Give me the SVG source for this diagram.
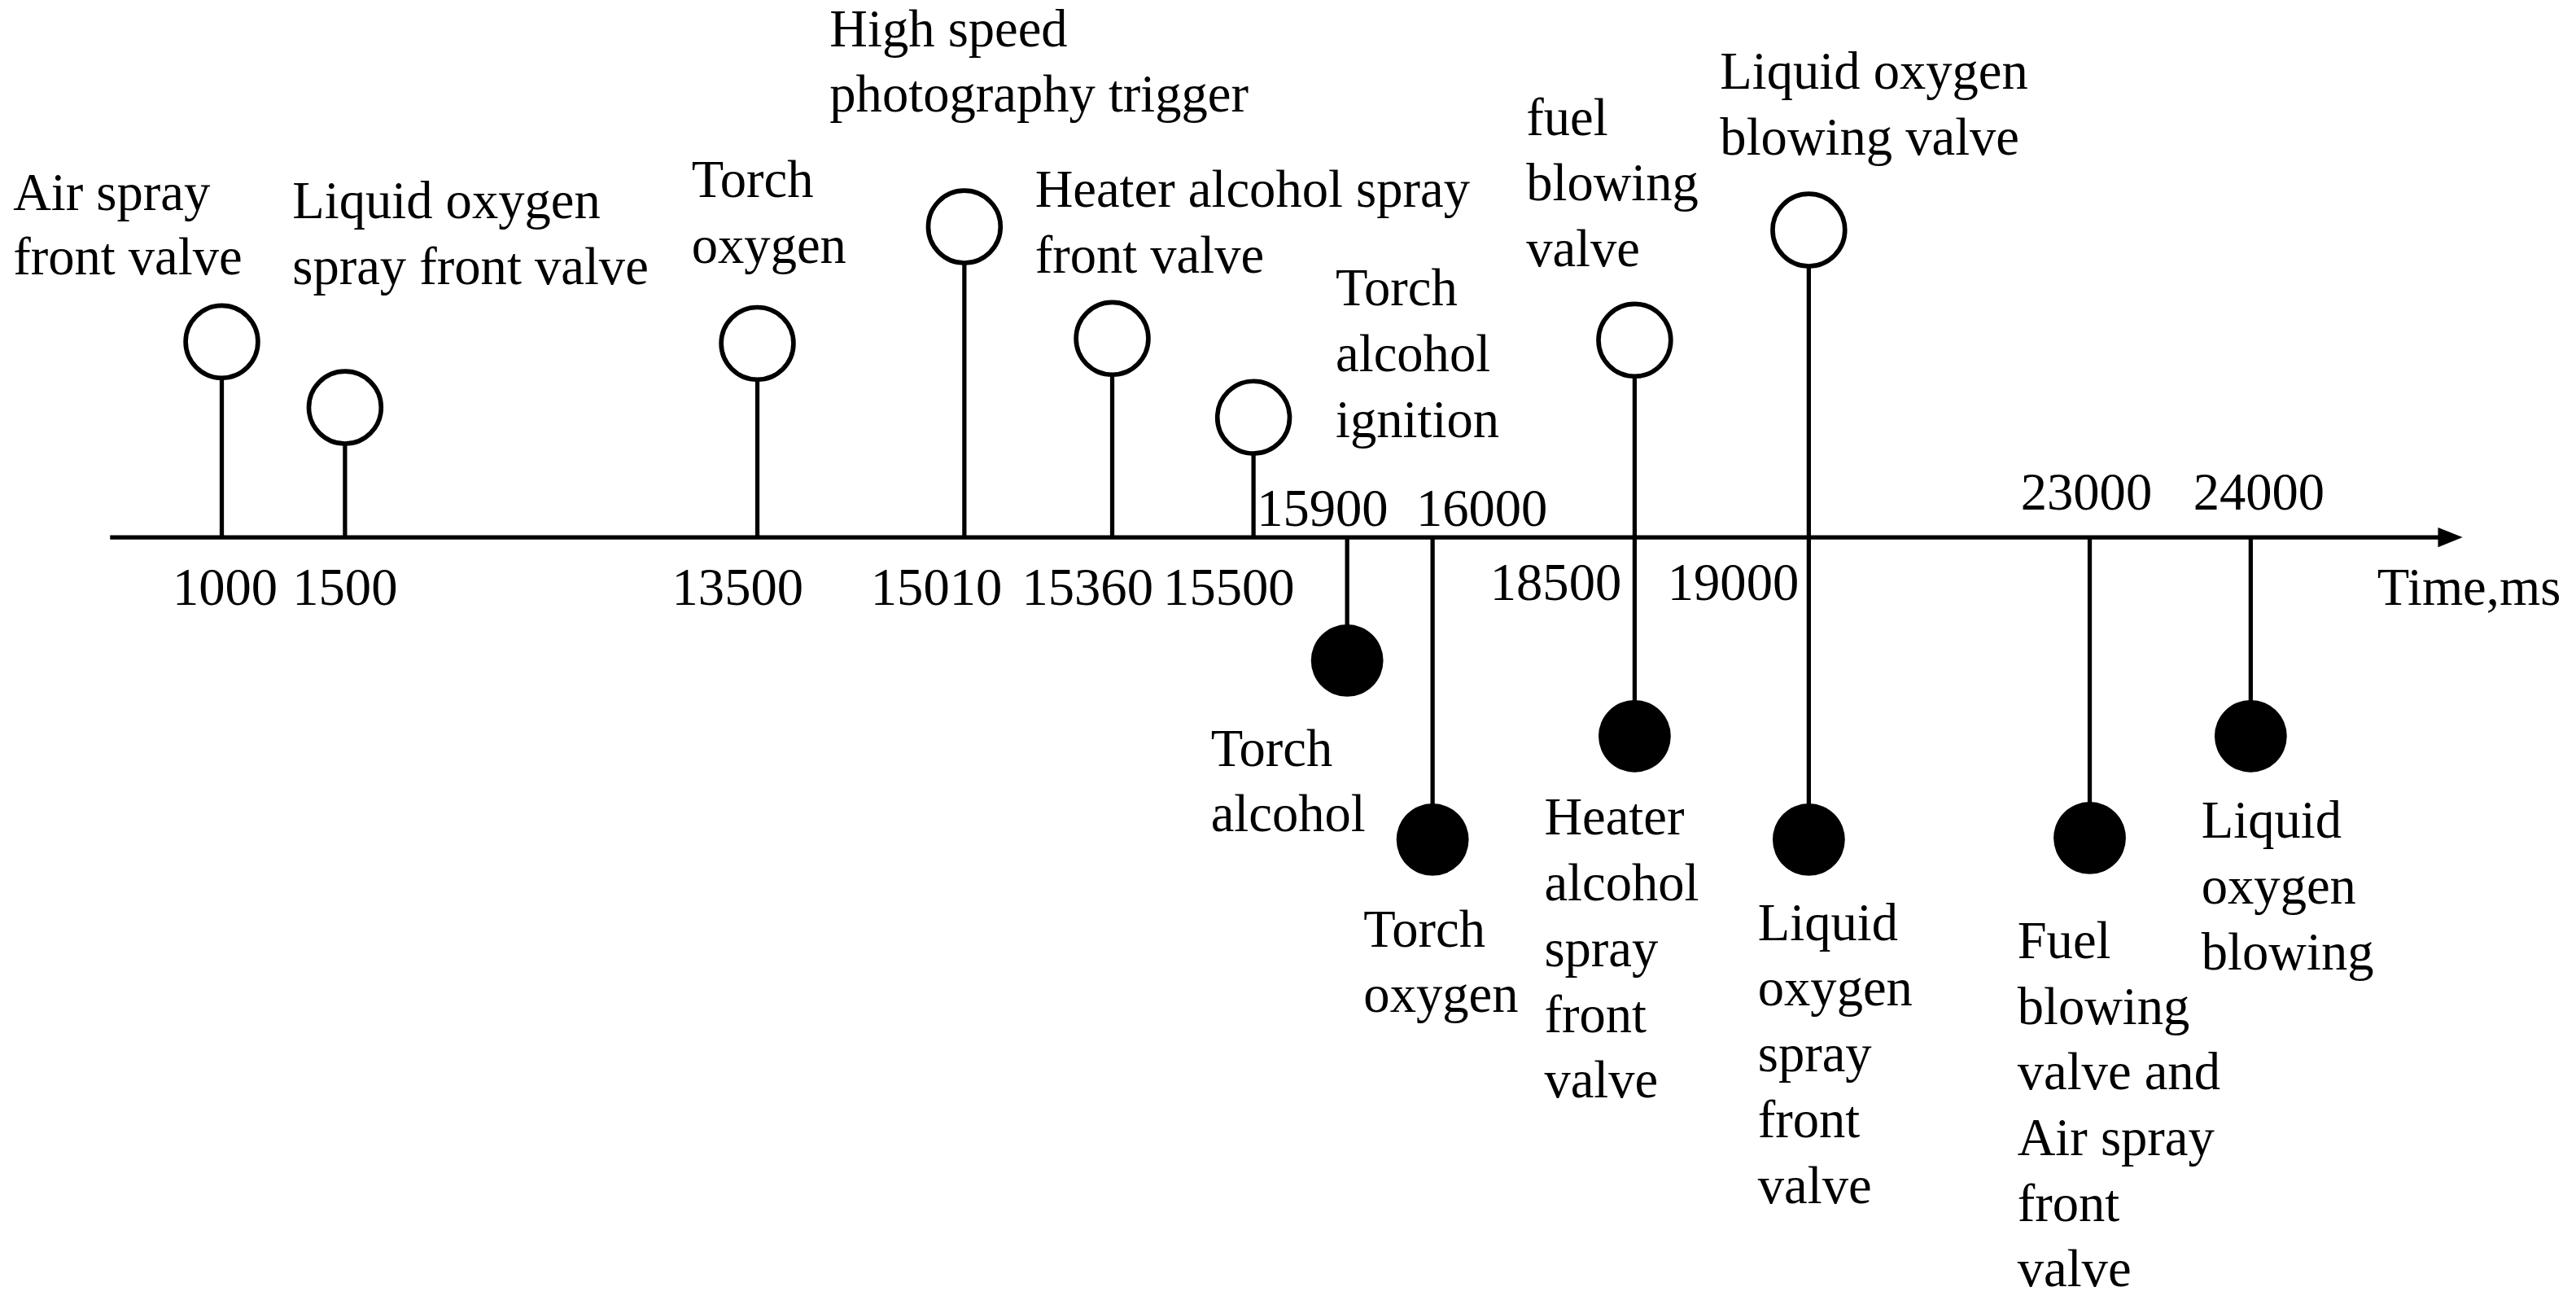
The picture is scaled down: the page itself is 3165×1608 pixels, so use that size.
<svg xmlns="http://www.w3.org/2000/svg" width="3165" height="1608" viewBox="0 0 3165 1608">
<style>
text{font-family:"Liberation Serif","Times New Roman",serif;font-size:32px;fill:#000}
.s{stroke:#000;stroke-width:2.6;fill:none}
.o{stroke:#000;stroke-width:2.8;fill:#fff}
.f{fill:#000}
</style>
<rect width="3165" height="1608" fill="#fff"/>
<g transform="scale(2.0185)">
<g id="connectors">
<line class="s" x1="67" y1="327" x2="1488" y2="327" stroke-width="3.2"/>
<polygon points="1499,327 1484,321 1484,333" fill="#000"/>
<line class="s" x1="135" y1="230" x2="135" y2="327"/>
<line class="s" x1="210" y1="270" x2="210" y2="327"/>
<line class="s" x1="461" y1="231" x2="461" y2="327"/>
<line class="s" x1="587" y1="160" x2="587" y2="327"/>
<line class="s" x1="677" y1="228" x2="677" y2="327"/>
<line class="s" x1="763" y1="276" x2="763" y2="327"/>
<line class="s" x1="820" y1="327" x2="820" y2="402"/>
<line class="s" x1="872" y1="327" x2="872" y2="511"/>
<line class="s" x1="995" y1="229" x2="995" y2="448"/>
<line class="s" x1="1101" y1="162" x2="1101" y2="511"/>
<line class="s" x1="1272" y1="327" x2="1272" y2="510"/>
<line class="s" x1="1370" y1="327" x2="1370" y2="448"/>
</g>
<g id="n1000"><circle class="o" cx="135" cy="208" r="22"/><text x="8" y="128">Air spray</text><text x="8" y="167">front valve</text><text x="105" y="368">1000</text></g>
<g id="n1500"><circle class="o" cx="210" cy="248" r="22"/><text x="178" y="133">Liquid oxygen</text><text x="178" y="173">spray front valve</text><text x="178" y="368">1500</text></g>
<g id="n13500"><circle class="o" cx="461" cy="209" r="22"/><text x="421" y="120">Torch</text><text x="421" y="160">oxygen</text><text x="409" y="368">13500</text></g>
<g id="n15010"><circle class="o" cx="587" cy="138" r="22"/><text x="505" y="28">High speed</text><text x="505" y="68">photography trigger</text><text x="530" y="368">15010</text></g>
<g id="n15360"><circle class="o" cx="677" cy="206" r="22"/><text x="630" y="126">Heater alcohol spray</text><text x="630" y="166">front valve</text><text x="622" y="368">15360</text></g>
<g id="n15500"><circle class="o" cx="763" cy="254" r="22"/><text x="813" y="186">Torch</text><text x="813" y="226">alcohol</text><text x="813" y="266">ignition</text><text x="708" y="368">15500</text></g>
<g id="n15900"><circle class="f" cx="820" cy="402" r="22"/><text x="765" y="320">15900</text><text x="737" y="466">Torch</text><text x="737" y="506">alcohol</text></g>
<g id="n16000"><circle class="f" cx="872" cy="511" r="22"/><text x="862" y="320">16000</text><text x="830" y="576">Torch</text><text x="830" y="616">oxygen</text></g>
<g id="n18500"><circle class="o" cx="995" cy="207" r="22"/><circle class="f" cx="995" cy="448" r="22"/><text x="929" y="82">fuel</text><text x="929" y="122">blowing</text><text x="929" y="162">valve</text><text x="907" y="365">18500</text><text x="940" y="508">Heater</text><text x="940" y="548">alcohol</text><text x="940" y="588">spray</text><text x="940" y="628">front</text><text x="940" y="668">valve</text></g>
<g id="n19000"><circle class="o" cx="1101" cy="140" r="22"/><circle class="f" cx="1101" cy="511" r="22"/><text x="1047" y="54">Liquid oxygen</text><text x="1047" y="94">blowing valve</text><text x="1015" y="365">19000</text><text x="1070" y="572">Liquid</text><text x="1070" y="612">oxygen</text><text x="1070" y="652">spray</text><text x="1070" y="692">front</text><text x="1070" y="732">valve</text></g>
<g id="n23000"><circle class="f" cx="1272" cy="510" r="22"/><text x="1230" y="310">23000</text><text x="1228" y="583">Fuel</text><text x="1228" y="623">blowing</text><text x="1228" y="663">valve and</text><text x="1228" y="703">Air spray</text><text x="1228" y="743">front</text><text x="1228" y="783">valve</text></g>
<g id="n24000"><circle class="f" cx="1370" cy="448" r="22"/><text x="1335" y="310">24000</text><text x="1340" y="510">Liquid</text><text x="1340" y="550">oxygen</text><text x="1340" y="590">blowing</text></g>
<g id="axislabel"><text x="1447" y="368">Time,ms</text></g>
</g>
</svg>
